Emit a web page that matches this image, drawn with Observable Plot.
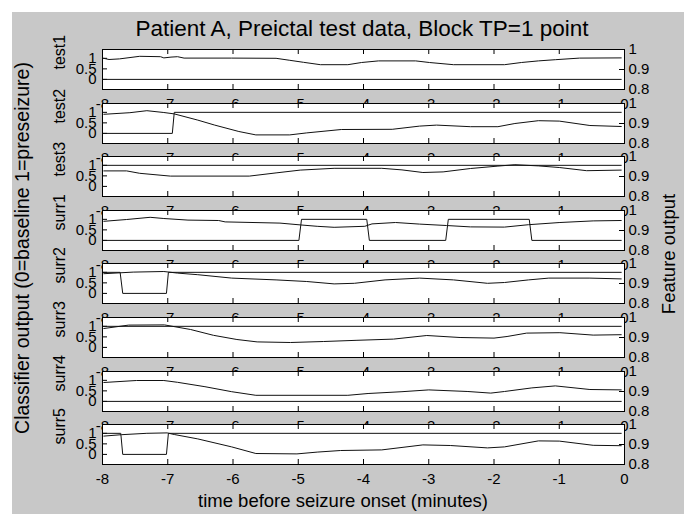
<!DOCTYPE html>
<html><head><meta charset="utf-8">
<script src="https://cdn.jsdelivr.net/npm/d3@7"></script>
<script src="https://cdn.jsdelivr.net/npm/@observablehq/plot@0.6"></script>
<style>
body{margin:0;background:#fff;}
#fig{position:relative;width:684px;height:514px;overflow:hidden;background:#fff;}
#bg{position:absolute;left:12px;top:12px;right:0;bottom:0;background:#c8c8c8;}
#fig svg{position:absolute;left:0;top:0;background:transparent;overflow:visible;}
</style></head><body><div id="fig"><div id="bg"></div></div>
<script>
const xTicks = [-8,-7,-6,-5,-4,-3,-2,-1,0];
const classTicks = [0, 0.5, 1];
const featureTicks = [0.8, 0.9, 1];
const panelNames = ["test1","test2","test3","surr1","surr2","surr3","surr4","surr5"];
const titleText = "Patient A, Preictal test data, Block TP=1 point";
const xLabelText = "time before seizure onset (minutes)";
const leftLabelText = "Classifier output (0=baseline 1=preseizure)";
const rightLabelText = "Feature output";

const test1Classifier = [[-8,0],[-0.05,0]];
const test1Feature = [[-7.98,0.956],[-7.90,0.950],[-7.74,0.953],[-7.43,0.966],[-7.11,0.964],[-7.06,0.958],[-6.95,0.962],[-6.85,0.964],[-6.75,0.957],[-6.02,0.957],[-5.34,0.956],[-5.13,0.946],[-4.92,0.936],[-4.66,0.924],[-4.24,0.924],[-4.03,0.935],[-3.77,0.943],[-3.20,0.943],[-2.99,0.935],[-2.62,0.924],[-1.84,0.924],[-1.58,0.935],[-1.32,0.943],[-1.06,0.949],[-0.69,0.957],[-0.05,0.958]];
const test2Classifier = [[-8,0],[-6.93,0],[-6.90,1],[-0.05,1]];
const test2Feature = [[-7.98,0.946],[-7.58,0.954],[-7.32,0.964],[-7.06,0.955],[-6.90,0.948],[-6.54,0.917],[-6.28,0.892],[-5.91,0.860],[-5.65,0.843],[-5.13,0.843],[-4.87,0.853],[-4.34,0.870],[-3.56,0.871],[-3.14,0.887],[-2.88,0.892],[-2.36,0.884],[-1.94,0.884],[-1.68,0.900],[-1.32,0.914],[-1.00,0.912],[-0.53,0.890],[-0.05,0.885]];
const test3Classifier = [[-8,1],[-0.05,1]];
const test3Feature = [[-7.98,0.928],[-7.63,0.928],[-7.43,0.916],[-6.96,0.902],[-5.75,0.902],[-5.34,0.918],[-4.97,0.932],[-4.45,0.941],[-3.72,0.941],[-3.41,0.933],[-3.09,0.920],[-2.78,0.923],[-2.36,0.940],[-1.94,0.952],[-1.68,0.959],[-1.32,0.953],[-1.00,0.945],[-0.58,0.929],[-0.05,0.932]];
const surr1Classifier = [[-8,0],[-4.99,0],[-4.95,1],[-3.95,1],[-3.91,0],[-2.74,0],[-2.70,1],[-1.46,1],[-1.42,0],[-0.05,0]];
const surr1Feature = [[-7.98,0.946],[-7.63,0.955],[-7.27,0.966],[-7.06,0.960],[-6.69,0.952],[-6.22,0.950],[-6.12,0.943],[-5.28,0.937],[-4.97,0.928],[-4.71,0.921],[-4.45,0.916],[-3.98,0.921],[-3.87,0.933],[-3.51,0.940],[-3.14,0.932],[-2.73,0.925],[-2.36,0.918],[-1.84,0.917],[-1.47,0.929],[-0.99,0.940],[-0.48,0.948],[-0.05,0.950]];
const surr2Classifier = [[-8,1],[-7.73,1],[-7.69,0],[-7.02,0],[-6.99,1],[-0.05,1]];
const surr2Feature = [[-7.98,0.949],[-7.53,0.957],[-7.06,0.960],[-6.85,0.952],[-6.54,0.944],[-6.02,0.927],[-5.34,0.918],[-4.87,0.910],[-4.45,0.898],[-4.14,0.901],[-3.67,0.918],[-3.14,0.927],[-2.62,0.918],[-2.10,0.901],[-1.84,0.905],[-1.47,0.918],[-1.16,0.927],[-0.53,0.927],[-0.05,0.923]];
const surr3Classifier = [[-8,1],[-0.05,1]];
const surr3Feature = [[-7.98,0.945],[-7.60,0.962],[-7.05,0.963],[-6.65,0.940],[-6.30,0.911],[-5.94,0.890],[-5.63,0.878],[-5.12,0.875],[-4.61,0.880],[-4.10,0.886],[-3.54,0.892],[-3.03,0.910],[-2.52,0.900],[-2.00,0.897],[-1.80,0.905],[-1.50,0.922],[-0.99,0.924],[-0.48,0.912],[-0.05,0.914]];
const surr4Classifier = [[-8,0],[-0.05,0]];
const surr4Feature = [[-7.98,0.945],[-7.48,0.955],[-7.06,0.955],[-6.85,0.946],[-6.43,0.924],[-6.02,0.899],[-5.65,0.881],[-4.24,0.881],[-3.93,0.890],[-3.41,0.899],[-3.00,0.908],[-2.40,0.900],[-2.05,0.892],[-1.84,0.900],[-1.42,0.918],[-1.06,0.928],[-0.53,0.910],[-0.05,0.908]];
const surr5Classifier = [[-8,1],[-7.72,1],[-7.69,0],[-7.02,0],[-6.99,1],[-0.05,1]];
const surr5Feature = [[-7.98,0.942],[-7.71,0.949],[-7.32,0.956],[-7.01,0.958],[-6.90,0.950],[-6.54,0.928],[-6.02,0.888],[-5.65,0.855],[-5.02,0.853],[-4.71,0.862],[-4.35,0.870],[-3.72,0.873],[-3.09,0.898],[-2.67,0.895],[-2.10,0.883],[-1.84,0.888],[-1.32,0.918],[-1.00,0.917],[-0.48,0.896],[-0.05,0.894]];

const classifiers = [test1Classifier,test2Classifier,test3Classifier,surr1Classifier,surr2Classifier,surr3Classifier,surr4Classifier,surr5Classifier];
const features = [test1Feature,test2Feature,test3Feature,surr1Feature,surr2Feature,surr3Feature,surr4Feature,surr5Feature];

const font = '"Liberation Sans", Arial, Helvetica, sans-serif';
const W = 684, H = 514, L = 102, R = 624, PH = 40;
const tops = [49,103,156,210,263,317,371,424];
const fig = document.getElementById("fig");
const fmt = d => String(d);
const lineColor = "#111";

panelNames.forEach((name, k) => {
  const top = tops[k];
  const common = {
    width: W, height: H,
    marginTop: top, marginBottom: H - top - PH, marginLeft: L, marginRight: W - R,
    style: {background: "transparent", fontFamily: font, fontSize: "15px", color: "black", overflow: "visible"},
    x: {domain: [-8, 0], axis: null}
  };
  const a = Plot.plot({
    ...common,
    y: {domain: [-0.48, 1.42], axis: null},
    marks: [
      Plot.frame({fill: "white", stroke: null}),
      Plot.axisX(xTicks, {anchor: "bottom", tickSize: 0, tickPadding: 9, tickFormat: fmt, label: null}),
      Plot.axisY(classTicks, {anchor: "left", tickSize: 0, tickPadding: 6, tickFormat: fmt, label: null}),
      Plot.ruleX(xTicks, {x: d => d, insetBottom: PH - 5, stroke: "black"}),
      Plot.ruleX(xTicks, {x: d => d, insetTop: PH - 5, stroke: "black"}),
      Plot.ruleY(classTicks, {y: d => d, insetRight: (R - L) - 5, stroke: "black"}),
      Plot.line(classifiers[k], {x: d => d[0], y: d => d[1], stroke: lineColor, strokeWidth: 1}),
      Plot.text([name], {text: d => d, frameAnchor: "left", dx: -43, rotate: -90, fontSize: 16, fill: "black"})
    ]
  });
  const b = Plot.plot({
    ...common,
    y: {domain: [0.8, 1.0], axis: null},
    marks: [
      Plot.axisY(featureTicks, {anchor: "right", tickSize: 0, tickPadding: 4, tickFormat: fmt, label: null}),
      Plot.ruleY(featureTicks, {y: d => d, insetLeft: (R - L) - 5, stroke: "black"}),
      Plot.line(features[k], {x: d => d[0], y: d => d[1], stroke: lineColor, strokeWidth: 1}),
      Plot.frame({stroke: "black", fill: "none"})
    ]
  });
  fig.append(a, b);
});

// titles and outer axis labels
const svg = d3.create("svg").attr("width", W).attr("height", H)
  .style("font-family", font);
svg.append("text").attr("x", 362).attr("y", 36).attr("text-anchor", "middle")
  .attr("font-size", 22.5).text(titleText);
svg.append("text").attr("x", 343).attr("y", 507).attr("text-anchor", "middle")
  .attr("font-size", 18.5).text(xLabelText);
svg.append("text").attr("transform", "translate(29,248) rotate(-90)").attr("text-anchor", "middle")
  .attr("font-size", 19.5).text(leftLabelText);
svg.append("text").attr("transform", "translate(675,254) rotate(-90)").attr("text-anchor", "middle")
  .attr("font-size", 18.5).text(rightLabelText);
fig.append(svg.node());
</script></body></html>
